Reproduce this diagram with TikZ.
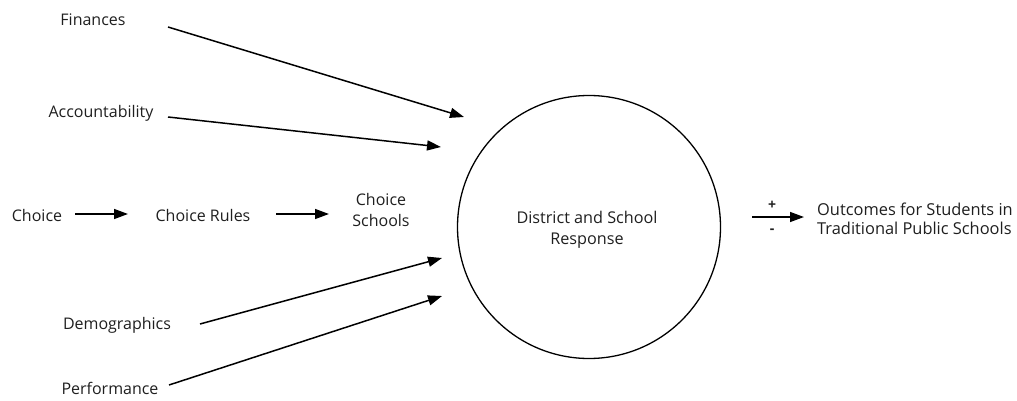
\documentclass[tikz,border=0pt]{standalone}
\usepackage{fontspec}
\setmainfont{Open Sans}
\usetikzlibrary{arrows.meta}
\begin{document}
\begin{tikzpicture}[x=1pt,y=-1pt,
  lbl/.style={inner sep=0pt, font=\fontsize{16}{19.5}\selectfont, align=center, text=black!88},
  arr/.style={line width=1.5pt, -{Triangle[length=14pt,width=10pt]}}]
\useasboundingbox (0,0) rectangle (1017,401);
% central circle
\node[draw, circle, line width=1.3pt, minimum size=263pt, inner sep=0pt] (resp) at (589,227) {};
\node[lbl, font=\fontsize{16.2}{21.5}\selectfont] (resptxt) at (587,230) {District and School\\Response};
% labels
\node[lbl] (fin) at (93,20) {Finances};
\node[lbl] (acc) at (101,113) {Accountability};
\node[lbl] (cho) at (37,215) {Choice};
\node[lbl] (rul) at (203,215) {Choice Rules};
\node[lbl, font=\fontsize{16}{20.5}\selectfont] (sch) at (381,210) {Choice\\Schools};
\node[lbl, align=left, anchor=west, font=\fontsize{16.4}{19.5}\selectfont] (out) at (817,219) {Outcomes for Students in\\Traditional Public Schools};
\node[lbl] (dem) at (117,325) {Demographics};
\node[lbl] (per) at (110,388) {Performance};
\node[lbl, font=\bfseries\fontsize{14}{16}\selectfont] (plus) at (772,205) {+};
\node[lbl, font=\bfseries\fontsize{14}{16}\selectfont] (minus) at (772,231) {-};
% arrow ends
\coordinate (finS) at (168,27);  \coordinate (finE) at (464,117);
\coordinate (accS) at (168,117); \coordinate (accE) at (441,147);
\coordinate (choS) at (75,214);  \coordinate (choE) at (128,214);
\coordinate (rulS) at (276,214); \coordinate (rulE) at (329,214);
\coordinate (demS) at (200,324); \coordinate (demE) at (442,258);
\coordinate (perS) at (169,385); \coordinate (perE) at (442,296);
\coordinate (outS) at (752,217); \coordinate (outE) at (804,217);
\draw[arr] (finS) -- (finE);
\draw[arr] (accS) -- (accE);
\draw[arr] (choS) -- (choE);
\draw[arr] (rulS) -- (rulE);
\draw[arr] (demS) -- (demE);
\draw[arr] (perS) -- (perE);
\draw[arr] (outS) -- (outE);
\end{tikzpicture}
\end{document}
